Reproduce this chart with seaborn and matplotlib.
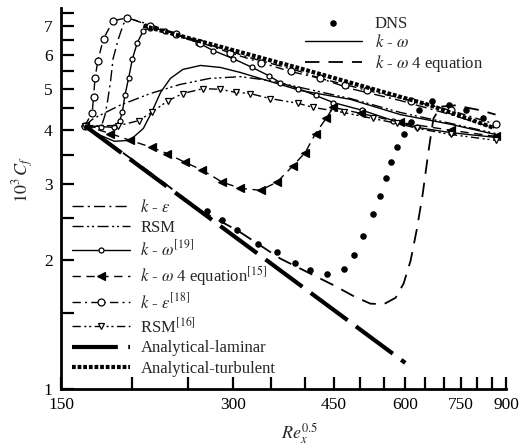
import numpy as np
import pandas as pd
import matplotlib
matplotlib.use("Agg")
import matplotlib.pyplot as plt
import seaborn as sns
from matplotlib.ticker import FixedLocator, NullFormatter, FixedFormatter

# ---------------- data ----------------
x_ticks = [150, 300, 450, 600, 750, 900]
x_minor = [200, 250, 350, 400, 500, 550, 650, 700, 800, 850]
y_ticks = [1, 2, 3, 4, 5, 6, 7]
y_minor = [1.5, 2.5, 3.5, 4.5, 5.5, 6.5, 7.5]

dns_x = [270, 287, 305, 332, 358, 385, 408, 437, 468, 489, 507, 526, 541, 556, 567, 581, 596, 613, 633, 669, 714, 765, 819]
dns_y = [2.60, 2.47, 2.34, 2.18, 2.08, 1.96, 1.89, 1.85, 1.90, 2.05, 2.27, 2.56, 2.81, 3.09, 3.37, 3.65, 3.91, 4.19, 4.45, 4.69, 4.59, 4.45, 4.28]

kw_x = [165, 176, 186, 198, 209, 216, 224, 233, 245, 263, 285, 309, 344, 393, 481, 588, 720, 863]
kw_y = [4.10, 3.89, 3.77, 3.79, 4.04, 4.40, 4.90, 5.28, 5.54, 5.66, 5.60, 5.45, 5.22, 4.95, 4.72, 4.35, 4.13, 3.91]

kw4_x = [165, 190, 224, 263, 305, 363, 449, 485, 521, 550, 577, 596, 613, 628, 643, 659, 672, 692, 735, 813, 863]
kw4_y = [4.10, 3.59, 3.06, 2.60, 2.34, 2.01, 1.745, 1.65, 1.58, 1.575, 1.63, 1.76, 1.99, 2.34, 2.82, 3.59, 4.26, 4.54, 4.57, 4.45, 4.35]

ke_x = [165, 176, 179, 181, 183, 185, 189, 193, 198, 215, 263, 321, 393, 481, 588, 720, 863]
ke_y = [4.10, 4.04, 4.33, 4.69, 5.16, 5.87, 6.53, 7.08, 7.27, 7.04, 6.43, 5.90, 5.48, 5.00, 4.69, 4.35, 4.04]

rsm_x = [165, 171, 190, 215, 242, 273, 309, 348, 393, 481, 588, 720, 863]
rsm_y = [4.10, 4.26, 4.57, 4.87, 5.11, 5.28, 5.33, 5.22, 5.03, 4.74, 4.40, 4.15, 3.93]

kw19_x = [165, 176, 186, 190, 192, 194, 197, 200, 204, 209, 215, 228, 260, 277, 300, 324, 346, 363, 390, 418, 449, 505, 572, 630, 720, 863]
kw19_y = [4.10, 4.08, 4.06, 4.21, 4.40, 4.82, 5.30, 5.87, 6.40, 6.82, 6.93, 6.82, 6.40, 6.13, 5.87, 5.60, 5.36, 5.16, 5.00, 4.82, 4.64, 4.45, 4.21, 4.06, 3.95, 3.85]

kw415_x = [165, 183, 198, 216, 230, 247, 265, 287, 309, 335, 358, 382, 401, 418, 436, 449, 501, 588, 720, 863]
kw415_y = [4.10, 3.93, 3.79, 3.65, 3.53, 3.37, 3.23, 3.03, 2.93, 2.90, 3.03, 3.31, 3.55, 3.93, 4.26, 4.52, 4.38, 4.17, 4.00, 3.87]

ke18_x = [165, 170, 171, 172, 174, 178, 185, 196, 215, 238, 263, 296, 335, 378, 426, 471, 515, 613, 720, 863]
ke18_y = [4.10, 4.38, 4.77, 5.28, 5.81, 6.53, 7.19, 7.31, 7.00, 6.71, 6.40, 6.06, 5.75, 5.48, 5.28, 5.11, 4.95, 4.69, 4.45, 4.13]

rsm16_x = [165, 189, 205, 216, 231, 245, 266, 285, 303, 321, 348, 390, 414, 468, 526, 581, 630, 720, 863]
rsm16_y = [4.10, 4.10, 4.21, 4.40, 4.69, 4.87, 5.00, 4.98, 4.90, 4.87, 4.74, 4.62, 4.52, 4.40, 4.26, 4.15, 4.04, 3.91, 3.79]

lam_x = [165, 600]
lam_y = [4.10, 1.15]

turb_x = [209, 393, 664, 853]
turb_y = [7.00, 5.57, 4.57, 4.06]

# ---------------- style ----------------
sns.set_style("ticks")
plt.rcParams['font.family'] = ['Liberation Serif', 'DejaVu Serif']
plt.rcParams['mathtext.fontset'] = 'stix'
plt.rcParams['font.size'] = 11

fig = plt.figure(figsize=(5.27, 4.48), dpi=100)
ax = fig.add_axes([61/527, 59/448, 445/527, 381/448])
ax.set_xscale('log')
ax.set_yscale('log')


def draw(x, y, label, **kw):
    kw.setdefault('color', 'black')
    kw.setdefault('markeredgecolor', 'black')
    kw.setdefault('markeredgewidth', 0.9)
    sns.lineplot(x=x, y=y, ax=ax, sort=False, estimator=None, legend=False, **kw)
    line = ax.lines[-1]
    line.set_label(label)
    return line


lw = 1.0
h_dns = draw(dns_x, dns_y, "DNS", linestyle='none', marker='o', markersize=3.8)
h_kw = draw(kw_x, kw_y, r"$k$ - $\omega$", linestyle='-', linewidth=lw)
h_kw4 = draw(kw4_x, kw4_y, r"$k$ - $\omega$ 4 equation", linestyle=(0, (8, 5)), linewidth=1.3)
h_ke = draw(ke_x, ke_y, r"$k$ - $\varepsilon$", linestyle=(0, (8, 3, 1.5, 3)), linewidth=lw)
h_rsm = draw(rsm_x, rsm_y, "RSM", linestyle=(0, (8, 2.5, 1.5, 2, 1.5, 2.5)), linewidth=lw)
h_kw19 = draw(kw19_x, kw19_y, r"$k$ - $\omega^{\mathrm{[19]}}$", linestyle='-', linewidth=lw,
              marker='o', markersize=3.6, markerfacecolor='white')
h_kw415 = draw(kw415_x, kw415_y, r"$k$ - $\omega$ 4 equation$^{\mathrm{[15]}}$",
               linestyle=(0, (6, 4)), linewidth=lw, marker='<', markersize=5.5)
h_ke18 = draw(ke18_x, ke18_y, r"$k$ - $\varepsilon^{\mathrm{[18]}}$", linestyle=(0, (6, 3, 1.5, 3)),
              linewidth=lw, marker='o', markersize=5, markerfacecolor='white')
h_rsm16 = draw(rsm16_x, rsm16_y, r"RSM$^{\mathrm{[16]}}$", linestyle=(0, (6, 2.5, 1.5, 2, 1.5, 2.5)),
               linewidth=lw, marker='v', markersize=5, markerfacecolor='white')
h_lam = draw(lam_x, lam_y, "Analytical-laminar", linestyle=(0, (11, 2.5)), linewidth=3.0)
h_turb = draw(turb_x, turb_y, "Analytical-turbulent", linestyle=(0, (0.9, 0.45)), linewidth=3.0)

# ---------------- axes ----------------
ax.set_xlim(150, 900)
ax.set_ylim(1, 7.7)
ax.xaxis.set_major_locator(FixedLocator(x_ticks))
ax.xaxis.set_major_formatter(FixedFormatter([str(v) for v in x_ticks]))
ax.xaxis.set_minor_locator(FixedLocator(x_minor))
ax.xaxis.set_minor_formatter(NullFormatter())
ax.yaxis.set_major_locator(FixedLocator(y_ticks))
ax.yaxis.set_major_formatter(FixedFormatter([str(v) for v in y_ticks]))
ax.yaxis.set_minor_locator(FixedLocator(y_minor))
ax.yaxis.set_minor_formatter(NullFormatter())
ax.tick_params(which='both', direction='in', length=9, width=1.6, colors='black',
               labelsize=12.5, pad=6)
sns.despine(ax=ax)
for s in ['left', 'bottom']:
    ax.spines[s].set_linewidth(2.0)
    ax.spines[s].set_color('black')

ax.set_xlabel(r"$Re_x^{0.5}$", fontsize=13)
ax.set_ylabel(r"$10^3\,C_f$", fontsize=13)
ax.xaxis.set_label_coords(0.537, -0.085)
ax.yaxis.set_label_coords(-0.056, 0.55)

leg1 = ax.legend(handles=[h_dns, h_kw, h_kw4], loc='upper left', bbox_to_anchor=(0.548, 0.978),
                 frameon=False, fontsize=12, handlelength=3.4, handletextpad=0.8,
                 labelspacing=0.1, borderpad=0, borderaxespad=0, numpoints=1)
ax.add_artist(leg1)
ax.legend(handles=[h_ke, h_rsm, h_kw19, h_kw415, h_ke18, h_rsm16, h_lam, h_turb],
          loc='upper left', bbox_to_anchor=(0.025, 0.5), frameon=False, fontsize=12,
          handlelength=3.5, handletextpad=0.6, labelspacing=0.25, borderpad=0,
          borderaxespad=0, numpoints=1)

fig.savefig("out.png", dpi=100)
